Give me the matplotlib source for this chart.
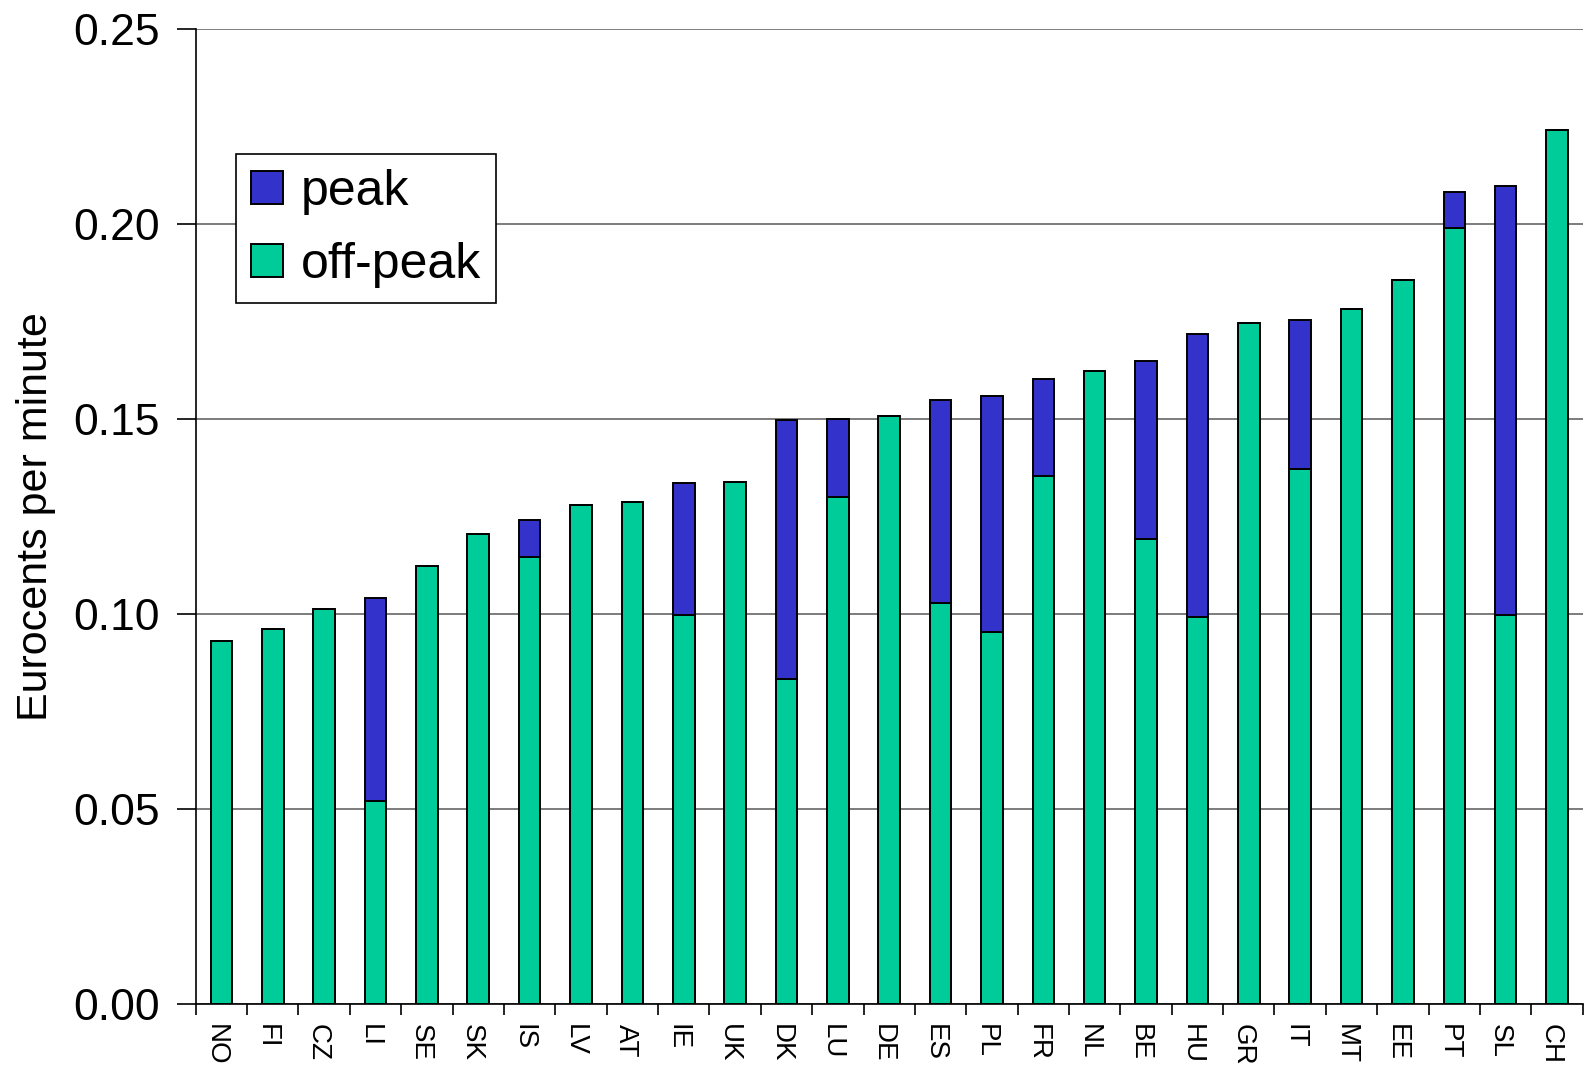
import matplotlib
matplotlib.use("Agg")
import matplotlib.pyplot as plt
import matplotlib.transforms as mtransforms
import numpy as np

countries = ["NO", "FI", "CZ", "LI", "SE", "SK", "IS", "LV", "AT", "IE", "UK", "DK", "LU", "DE",
             "ES", "PL", "FR", "NL", "BE", "HU", "GR", "IT", "MT", "EE", "PT", "SL", "CH"]
off_peak = [0.0932, 0.0963, 0.1012, 0.0522, 0.1124, 0.1205, 0.1147, 0.1280, 0.1288, 0.0999,
            0.1340, 0.0833, 0.1301, 0.1508, 0.1028, 0.0955, 0.1353, 0.1623, 0.1192, 0.0994,
            0.1747, 0.1373, 0.1783, 0.1856, 0.1991, 0.0999, 0.2240]
peak_total = [0.0932, 0.0963, 0.1012, 0.1041, 0.1124, 0.1205, 0.1241, 0.1280, 0.1288, 0.1337,
              0.1340, 0.1498, 0.1501, 0.1508, 0.1550, 0.1560, 0.1602, 0.1623, 0.1648, 0.1719,
              0.1747, 0.1755, 0.1783, 0.1856, 0.2082, 0.2098, 0.2240]
yticks = [0.00, 0.05, 0.10, 0.15, 0.20, 0.25]

plt.rcParams['font.family'] = ['Liberation Sans', 'DejaVu Sans']

GREEN = "#00CC99"
BLUE = "#3333CC"

fig = plt.figure(figsize=(15.91, 10.71), dpi=100)
ax = fig.add_axes([0.123, 0.0623, 0.8718, 0.9106])

x = np.arange(len(countries))
off = np.array(off_peak)
peak_extra = np.array(peak_total) - off

w = 0.42
ax.bar(x, off, width=w, color=GREEN, edgecolor="black", linewidth=1.4, label="off-peak", zorder=3)
ax.bar(x, peak_extra, width=w, bottom=off, color=BLUE, edgecolor="black", linewidth=1.4,
       label="peak", zorder=3)

ax.set_xlim(-0.5, len(countries) - 0.5)
ax.set_ylim(0, 0.25)
ax.set_yticks(yticks)
ax.set_yticklabels([f"{v:.2f}" for v in yticks], fontsize=32)
ax.yaxis.grid(True, color="#666666", linewidth=1.2, zorder=0)
ax.set_axisbelow(True)

# category labels (rotated) placed under each bar
ax.set_xticks(x)
ax.set_xticklabels([])
ax.tick_params(axis="x", which="major", length=0)
lbl_trans = mtransforms.blended_transform_factory(ax.transData, ax.transAxes) + \
    mtransforms.ScaledTranslation(-0.06, -0.20, fig.dpi_scale_trans)
for xi, name in zip(x, countries):
    ax.text(xi, 0, name, transform=lbl_trans, rotation=270, fontsize=20,
            ha="center", va="top")

ax.set_xticks(np.arange(len(countries) + 1) - 0.5, minor=True)
ax.tick_params(axis="x", which="minor", length=8, width=1.2, direction="out")
ax.tick_params(axis="y", length=14, width=1.2, pad=12)

for s in ["top", "right"]:
    ax.spines[s].set_visible(False)
for s in ["left", "bottom"]:
    ax.spines[s].set_linewidth(1.2)

ax.set_ylabel("Eurocents per minute", fontsize=31, labelpad=12)

handles, labels = ax.get_legend_handles_labels()
leg = ax.legend([handles[1], handles[0]], [labels[1], labels[0]],
                loc="upper left", bbox_to_anchor=(0.029, 0.872), fontsize=36,
                frameon=True, fancybox=False, edgecolor="black", framealpha=1,
                handlelength=0.65, handleheight=0.65, handletextpad=0.35,
                borderpad=0.3, labelspacing=0.55, borderaxespad=0)
leg.get_frame().set_linewidth(1.2)

fig.savefig("out.png", dpi=100)
